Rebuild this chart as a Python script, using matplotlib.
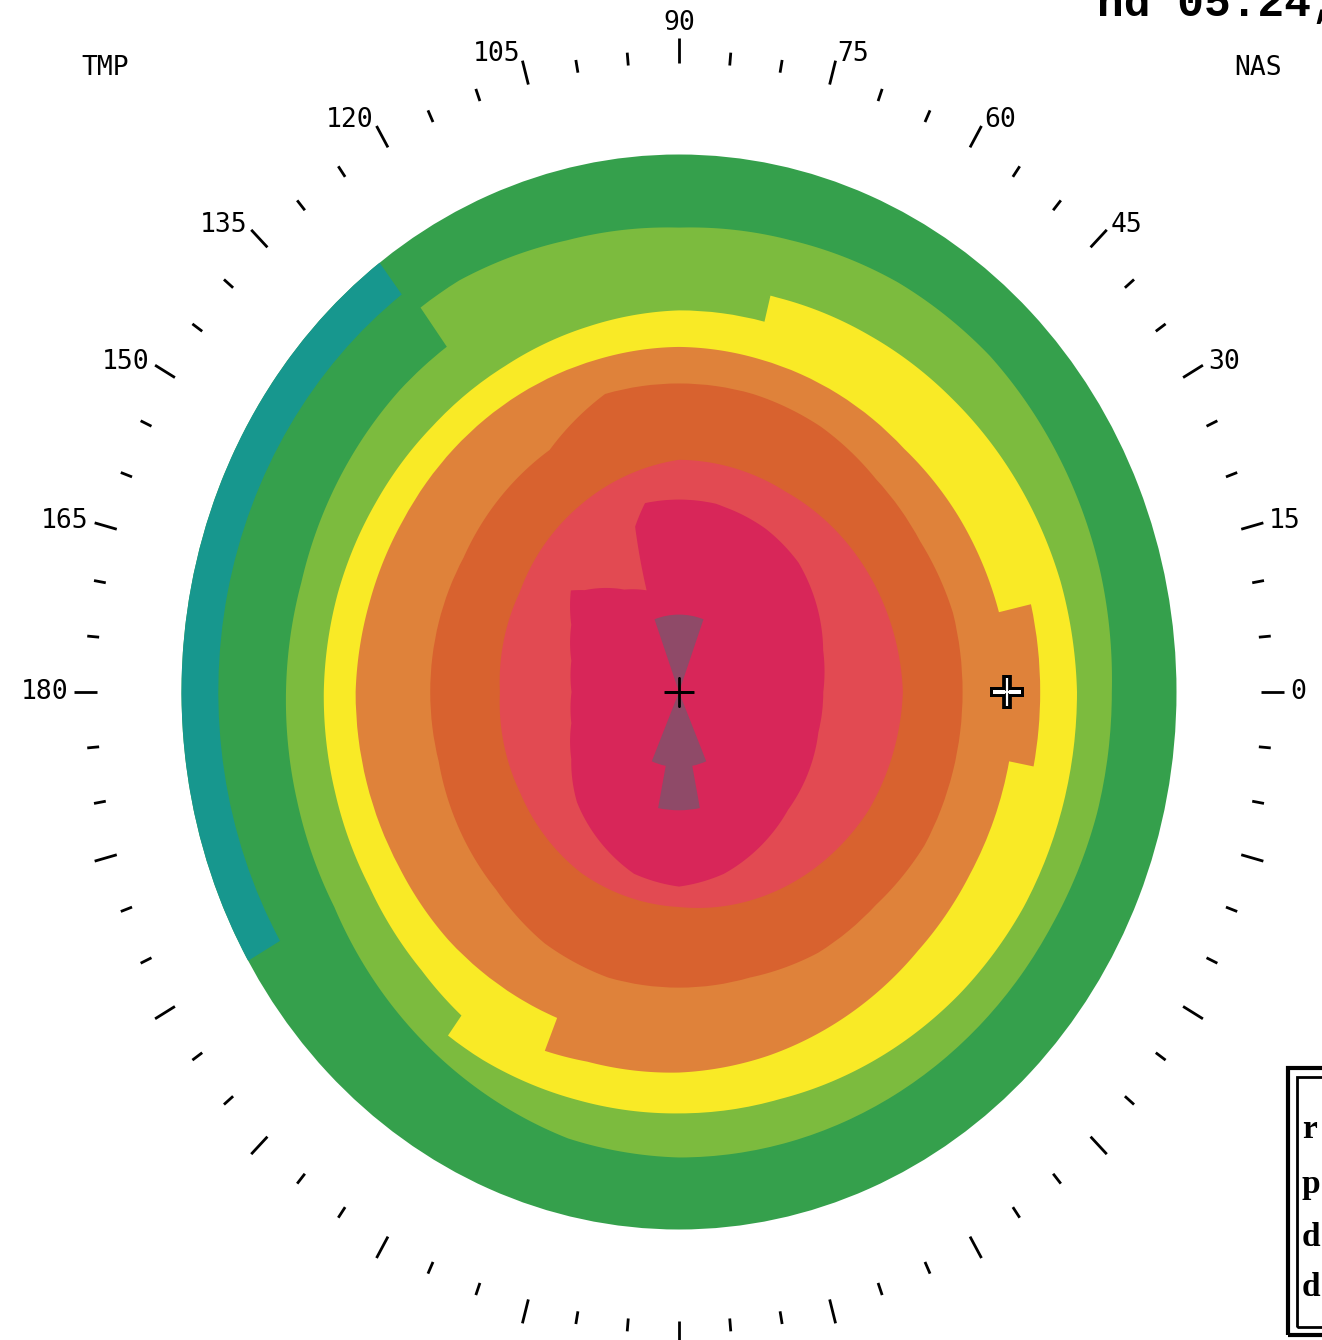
import numpy as np
import matplotlib
matplotlib.use("Agg")
import matplotlib.pyplot as plt
from matplotlib.patches import Rectangle

# ---------------- data (radii in map units, angles in degrees) ----------------
edge_r = 5.0

teal_start, teal_end, teal_inner, teal_outer = 127, 210, 4.63, 5.0

ltgreen_deg = [0, 15, 30, 45, 60, 75, 90, 105, 120, 126, 126, 135, 150, 165, 180, 195, 210, 225, 240, 255, 270, 285, 300, 315, 330, 345]
ltgreen_r = [4.35, 4.38, 4.40, 4.42, 4.40, 4.35, 4.32, 4.35, 4.42, 4.42, 3.97, 3.97, 3.95, 3.93, 3.95, 3.97, 4.00, 4.10, 4.20, 4.30, 4.33, 4.33, 4.33, 4.33, 4.33, 4.35]

yellow_deg = [0, 15, 30, 45, 60, 75, 76, 76, 90, 105, 120, 135, 150, 165, 180, 195, 210, 225, 234, 234, 240, 255, 270, 285, 300, 315, 330, 345]
yellow_r = [4.00, 3.97, 3.92, 3.87, 3.83, 3.80, 3.80, 3.55, 3.55, 3.52, 3.50, 3.50, 3.52, 3.55, 3.57, 3.58, 3.60, 3.66, 3.72, 3.95, 3.95, 3.93, 3.92, 3.92, 3.95, 3.98, 4.00, 4.00]

orange_deg = [0, 13, 13, 30, 45, 60, 75, 90, 105, 120, 135, 150, 165, 180, 195, 210, 225, 240, 248, 248, 255, 270, 285, 300, 315, 330, 349, 349]
orange_r = [3.63, 3.63, 3.30, 3.25, 3.20, 3.20, 3.20, 3.21, 3.20, 3.20, 3.20, 3.20, 3.22, 3.25, 3.25, 3.25, 3.27, 3.27, 3.27, 3.60, 3.56, 3.54, 3.50, 3.45, 3.40, 3.38, 3.38, 3.63]

dkorange_deg = [0, 15, 30, 45, 60, 75, 90, 105, 120, 135, 150, 165, 180, 195, 210, 225, 240, 255, 270, 285, 300, 315, 330, 345]
dkorange_r = [2.85, 2.85, 2.80, 2.80, 2.85, 2.87, 2.87, 2.87, 2.60, 2.55, 2.50, 2.50, 2.50, 2.50, 2.55, 2.60, 2.70, 2.75, 2.75, 2.75, 2.80, 2.80, 2.85, 2.85]

red_deg = [0, 30, 60, 90, 120, 150, 180, 210, 240, 270, 300, 330]
red_r = [2.25, 2.20, 2.15, 2.16, 2.00, 1.85, 1.80, 1.85, 1.95, 2.00, 2.10, 2.20]

crimson_deg = [0, 15, 30, 45, 60, 75, 78, 90, 101, 106, 109, 120, 135, 139, 150, 165, 180, 195, 210, 225, 240, 255, 270, 285, 300, 315, 330, 345]
crimson_r = [1.45, 1.50, 1.60, 1.70, 1.75, 1.78, 1.79, 1.79, 1.79, 1.60, 1.00, 1.10, 1.34, 1.44, 1.25, 1.12, 1.08, 1.12, 1.25, 1.45, 1.60, 1.75, 1.81, 1.75, 1.65, 1.55, 1.50, 1.45]

core_deg = [90, 270, 270]          # sector centres
core_width = [40, 46, 22]          # sector widths (deg)
core_r = [0.72, 0.70, 1.10]

marker2_deg, marker2_r = 0, 3.30

tick_deg = list(range(0, 360, 5))
label_deg = [0, 15, 30, 45, 60, 75, 90, 105, 120, 135, 150, 165, 180]
label_txt = ["0", "15", "30", "45", "60", "75", "90", "105", "120", "135", "150", "165", "180"]

# colours
C_DKGREEN = "#35a04c"
C_TEAL = "#17978e"
C_LTGREEN = "#7cbb3e"
C_YELLOW = "#f9ea26"
C_ORANGE = "#df823a"
C_DKORANGE = "#d8622f"
C_RED = "#e24a52"
C_CRIMSON = "#d82659"
C_CORE = "#8f4a68"

# ---------------- figure ----------------
W, H = 1322, 1340
fig = plt.figure(figsize=(W / 100, H / 100), dpi=100)
cx, cy = 679, 692          # map centre (px from top-left)
sx, sy = 99.5, 107.5       # px per unit horizontally / vertically
R = 6.3
left = (cx - R * sx) / W
bottom = (H - (cy + R * sy)) / H
ax = fig.add_axes([left, bottom, 2 * R * sx / W, 2 * R * sy / H], projection="polar")
ax.set_aspect("auto")
ax.set_ylim(0, R)
ax.set_axis_off()


def band(deg, r, color):
    t = np.deg2rad(np.asarray(deg + [deg[0] + 360], float))
    rr = list(r) + [r[0]]
    polys = ax.fill(t, rr, color=color, lw=0, antialiased=True)
    for p in polys:
        p.get_path()._interpolation_steps = 40


ax.bar(0, edge_r, width=2 * np.pi, bottom=0, color=C_DKGREEN, lw=0, align="edge")
ax.bar(np.deg2rad(teal_start), teal_outer - teal_inner, width=np.deg2rad(teal_end - teal_start),
       bottom=teal_inner, color=C_TEAL, lw=0, align="edge")
band(ltgreen_deg, ltgreen_r, C_LTGREEN)
band(yellow_deg, yellow_r, C_YELLOW)
band(orange_deg, orange_r, C_ORANGE)
band(dkorange_deg, dkorange_r, C_DKORANGE)
band(red_deg, red_r, C_RED)
band(crimson_deg, crimson_r, C_CRIMSON)
ax.bar(np.deg2rad(core_deg), core_r, width=np.deg2rad(core_width), bottom=0,
       color=C_CORE, lw=0, align="center")

# centre cross and second marker
ax.plot([0], [0], marker="+", ms=22, mew=2, color="black")
ax.plot([np.deg2rad(marker2_deg)], [marker2_r], marker="+", ms=24, mew=7, color="black")
ax.plot([np.deg2rad(marker2_deg)], [marker2_r], marker="+", ms=20, mew=1.6, color="white")

# tick ring
for d in tick_deg:
    t = np.deg2rad(d)
    r1 = 6.08 if d % 15 == 0 else 5.97
    ax.plot([t, t], [5.85, r1], color="black", lw=2.0, solid_capstyle="butt", clip_on=False)

mono = "DejaVu Sans Mono"
for d, s in zip(label_deg, label_txt):
    t = np.deg2rad(d)
    if d == 90:
        ax.text(t, 6.10, s, ha="center", va="bottom", fontsize=19, family=mono, clip_on=False)
    elif d < 90:
        ax.text(t, 6.14, s, ha="left", va="center", fontsize=19, family=mono, clip_on=False)
    else:
        ax.text(t, 6.14, s, ha="right", va="center", fontsize=19, family=mono, clip_on=False)

fig.text(105 / W, 1 - 68 / H, "TMP", ha="center", va="center", fontsize=19, family=mono)
fig.text(1258 / W, 1 - 68 / H, "NAS", ha="center", va="center", fontsize=19, family=mono)

# partially cut header text (cut at the top edge as in the original print)
fig.text(1097 / W, 1 - 16 / H, "nd 05.24,", ha="left", va="baseline", fontsize=32,
         family="Liberation Mono", weight="bold")

# cut-off info box at bottom right
fig.patches.append(Rectangle((1288 / W, 1 - 1335 / H), 60 / W, (1335 - 1068) / H,
                             transform=fig.transFigure, fill=False, lw=3, ec="black"))
fig.patches.append(Rectangle((1297 / W, 1 - 1327 / H), 60 / W, (1327 - 1077) / H,
                             transform=fig.transFigure, fill=False, lw=2, ec="black"))
for yy, s in zip([1130, 1185, 1237, 1287], ["r", "p", "d", "d"]):
    fig.text(1302 / W, 1 - yy / H, s, ha="left", va="center", fontsize=24,
             family="Liberation Serif", weight="bold")

fig.savefig("out.png", dpi=100, facecolor="white")
